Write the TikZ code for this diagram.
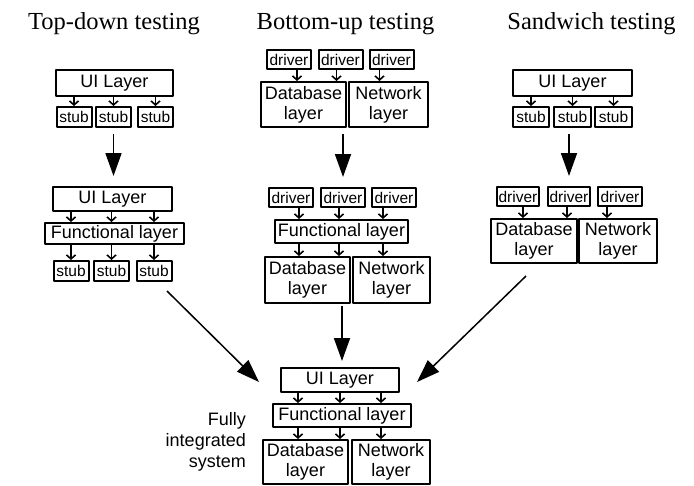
\documentclass[tikz,border=0pt]{standalone}
\usepackage{fontspec}
\setmainfont{Liberation Serif}
\setsansfont{Liberation Sans}
\usetikzlibrary{arrows.meta}
\tikzset{
  layer/.style={draw, line width=2pt, inner sep=0pt, align=center,
    font=\sffamily\fontsize{18}{20}\selectfont},
  stubbox/.style={layer, minimum width=35pt, minimum height=20pt,
    font=\sffamily\fontsize{15.5}{16}\selectfont},
  drvbox/.style={stubbox, minimum width=44pt, minimum height=19pt},
  small/.style={-{Straight Barb[length=4pt,width=9pt]}, line width=1.6pt},
  big/.style={-{Triangle[length=23pt,width=16pt]}, line width=1.8pt},
  heading/.style={anchor=base, font=\fontsize{24.5}{26}\selectfont}
}
\begin{document}
\begin{tikzpicture}[x=1pt, y=-1pt, line join=round]
\useasboundingbox (0,0) rectangle (694,485);
% headings
\node[heading] (hT) at (114,29) {Top-down testing};
\node[heading] (hB) at (345.5,29) {Bottom-up testing};
\node[heading] (hS) at (591.5,29) {Sandwich testing};

% top-down
\node[layer, minimum width=117pt, minimum height=26pt] (tUI) at (114.5,83) {UI Layer};
\node[stubbox] (tS1) at (74,117) {stub};
\node[stubbox] (tS2) at (113.5,117) {stub};
\node[stubbox] (tS3) at (155.5,117) {stub};
\node[layer, minimum width=119pt, minimum height=24pt] (tUI2) at (112.5,199) {UI Layer};
\node[layer, minimum width=139pt, minimum height=21pt] (tFL) at (114.5,233.5) {Functional layer};
\node[stubbox] (tS4) at (71,271) {stub};
\node[stubbox] (tS5) at (111.5,271) {stub};
\node[stubbox] (tS6) at (154,271) {stub};
\foreach \s in {tS1,tS2,tS3}
  \draw[small] (\s.north |- tUI.south) -- (\s.north);
\foreach \s in {tS4,tS5,tS6}{
  \draw[small] (\s.north |- tUI2.south) -- (\s.north |- tFL.north);
  \draw[small] (\s.north |- tFL.south) -- (\s.north);
}
\draw[big, shorten <=6pt, shorten >=10pt] (tS2.south) -- (tS2.south |- tUI2.north);

% bottom-up
\node[drvbox] (bD1) at (289,59.5) {driver};
\node[drvbox] (bD2) at (340.5,59.5) {driver};
\node[drvbox] (bD3) at (391.5,59.5) {driver};
\node[layer, minimum width=85pt, minimum height=45pt] (bDB) at (303.5,104.5) {Database\\layer};
\node[layer, minimum width=79pt, minimum height=45pt] (bNW) at (388.5,104.5) {Network\\layer};
\node[drvbox] (bD4) at (291,197.5) {driver};
\node[drvbox] (bD5) at (343,197.5) {driver};
\node[drvbox] (bD6) at (394,197.5) {driver};
\node[layer, minimum width=133pt, minimum height=23pt] (bFL) at (341.5,231.5) {Functional layer};
\node[layer, minimum width=85pt, minimum height=46pt] (bDB2) at (307.5,280) {Database\\layer};
\node[layer, minimum width=77pt, minimum height=46pt] (bNW2) at (391.5,280) {Network\\layer};
\foreach \s/\d in {bD1/8,bD2/-4,bD3/-12}
  \draw[small] ([xshift=\d]\s.south) -- ([xshift=\d]\s.south |- bDB.north);
\foreach \s/\d in {bD4/8,bD5/-4,bD6/-11}{
  \draw[small] ([xshift=\d]\s.south) -- ([xshift=\d]\s.south |- bFL.north);
  \draw[small] ([xshift=\d]\s.south |- bFL.south) -- ([xshift=\d]\s.south |- bDB2.north);
}
\draw[big, shorten <=6pt, shorten >=10pt] (bD5.north |- bDB.south) -- (bD5.north);

% sandwich
\node[layer, minimum width=119pt, minimum height=26pt] (sUI) at (572.5,83) {UI Layer};
\node[stubbox, minimum width=36pt] (sS1) at (531,117) {stub};
\node[stubbox, minimum width=37pt] (sS2) at (572.5,117) {stub};
\node[stubbox, minimum width=37pt] (sS3) at (613.5,117) {stub};
\node[drvbox, minimum width=42pt] (sD1) at (518,196.5) {driver};
\node[drvbox, minimum width=42pt] (sD2) at (569,196.5) {driver};
\node[drvbox] (sD3) at (620,196.5) {driver};
\node[layer, minimum width=86pt, minimum height=44pt] (sDB) at (534,241) {Database\\layer};
\node[layer, minimum width=78pt, minimum height=44pt] (sNW) at (618,241) {Network\\layer};
\foreach \s in {sS1,sS2,sS3}
  \draw[small] (\s.north |- sUI.south) -- (\s.north);
\foreach \s/\d in {sD1/5,sD2/-2,sD3/-13}
  \draw[small] ([xshift=\d]\s.south) -- ([xshift=\d]\s.south |- sDB.north);
\draw[big, shorten <=6pt, shorten >=10pt] (sD2.north |- sS2.south) -- (sD2.north);

% fully integrated
\node[layer, minimum width=118pt, minimum height=24pt] (fUI) at (340,380) {UI Layer};
\node[layer, minimum width=138pt, minimum height=23pt] (fFL) at (342,415.5) {Functional layer};
\node[layer, minimum width=85pt, minimum height=44pt] (fDB) at (305.5,462) {Database\\layer};
\node[layer, minimum width=78pt, minimum height=44pt] (fNW) at (391,462) {Network\\layer};
\node[anchor=east, align=right, inner sep=0pt,
  font=\sffamily\fontsize{18}{21}\selectfont] (fTxt) at (246,442) {Fully\\integrated\\system};
\foreach \d in {-44,-2,39}{
  \draw[small] ([xshift=\d]fFL.center |- fUI.south) -- ([xshift=\d]fFL.north);
  \draw[small] ([xshift=\d]fFL.south) -- ([xshift=\d]fFL.center |- fDB.north);
}
\draw[big, shorten <=2pt, shorten >=6pt] (fFL.north |- bDB2.south) -- (fFL.north |- fUI.north);

% merging arrows
\coordinate (lA) at (167,291);
\coordinate (lT) at (259,382);
\coordinate (rA) at (526,276);
\coordinate (rT) at (417,382);
\draw[big, line width=1.5pt] (lA) -- (lT);
\draw[big, line width=1.5pt] (rA) -- (rT);
\end{tikzpicture}
\end{document}
